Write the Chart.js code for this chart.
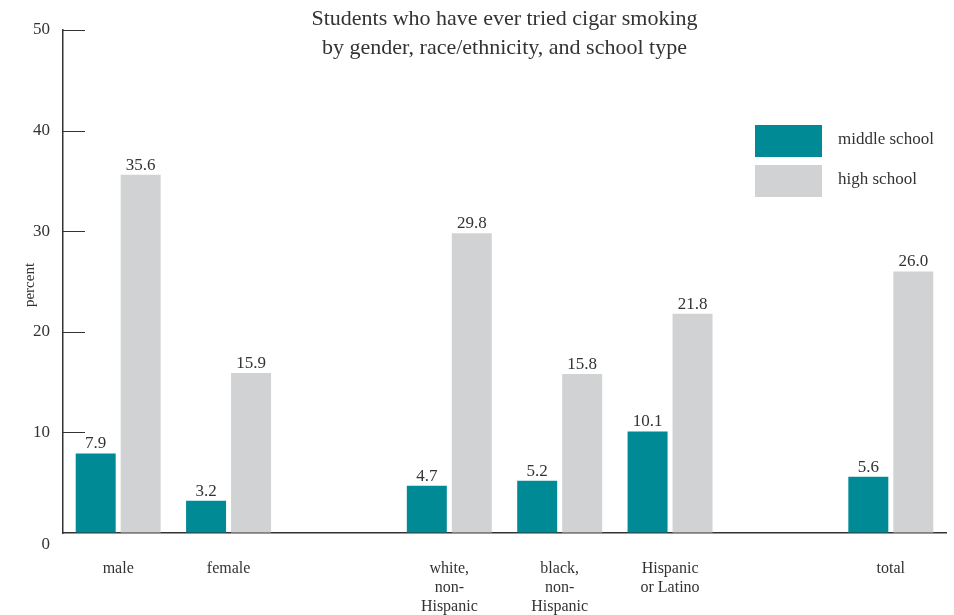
<!DOCTYPE html>
<html>
<head>
<meta charset="utf-8">
<script src="https://cdn.jsdelivr.net/npm/chart.js@4"></script>
<style>
  html, body { margin: 0; padding: 0; background: #fff; }
  #wrap { width: 954px; height: 615px; }
</style>
</head>
<body>
<div id="wrap"><canvas id="chart" width="954" height="615"></canvas></div>
<script>
// categories (empty slots are the gaps between groups)
const categories = [
  "male",
  "female",
  "",
  ["white,", "non-", "Hispanic"],
  ["black,", "non-", "Hispanic"],
  ["Hispanic", "or Latino"],
  "",
  "total"
];
const middleSchool = [7.9, 3.2, null, 4.7, 5.2, 10.1, null, 5.6];
const highSchool = [35.6, 15.9, null, 29.8, 15.8, 21.8, null, 26.0];
const yTicks = [0, 10, 20, 30, 40, 50];
const titleLines = ["Students who have ever tried cigar smoking", "by gender, race/ethnicity, and school type"];

const TEAL = "#008a96";
const GRAY = "#d1d2d4";
const TEXT = "#333333";
const SERIF = "'Liberation Serif', 'DejaVu Serif', serif";

// title, inward ticks, value labels, axis title and legend
const extras = {
  id: "extras",
  afterDraw(chart) {
    const ctx = chart.ctx;
    const area = chart.chartArea;
    const y = chart.scales.y;
    ctx.save();
    ctx.fillStyle = TEXT;

    // title
    ctx.font = "22px " + SERIF;
    ctx.textAlign = "center";
    ctx.textBaseline = "alphabetic";
    const cx = (area.left + area.right) / 2;
    ctx.fillText(titleLines[0], cx, 25);
    ctx.fillText(titleLines[1], cx, 54);

    // inward tick marks
    ctx.strokeStyle = "#333";
    ctx.lineWidth = 1;
    yTicks.forEach(v => {
      if (v === 0) return;
      const py = Math.round(y.getPixelForValue(v)) + 0.5;
      ctx.beginPath();
      ctx.moveTo(area.left, py);
      ctx.lineTo(area.left + 22, py);
      ctx.stroke();
    });

    // zero label sits below the baseline
    ctx.font = "17px " + SERIF;
    ctx.textAlign = "right";
    ctx.textBaseline = "middle";
    ctx.fillText("0", area.left - 13, y.getPixelForValue(0) + 12);

    // value labels
    ctx.font = "17px " + SERIF;
    ctx.textAlign = "center";
    ctx.textBaseline = "bottom";
    chart.data.datasets.forEach((ds, i) => {
      const meta = chart.getDatasetMeta(i);
      meta.data.forEach((bar, j) => {
        const v = ds.data[j];
        if (v == null) return;
        ctx.fillText(v.toFixed(1), bar.x, bar.y - 1);
      });
    });

    // axis title
    ctx.save();
    ctx.translate(30, 285);
    ctx.rotate(-Math.PI / 2);
    ctx.font = "15px " + SERIF;
    ctx.textAlign = "center";
    ctx.textBaseline = "middle";
    ctx.fillText("percent", 0, 0);
    ctx.restore();

    // legend
    const items = chart.data.datasets;
    ctx.font = "17px " + SERIF;
    ctx.textAlign = "left";
    ctx.textBaseline = "middle";
    items.forEach((ds, i) => {
      const top = 125 + i * 40;
      ctx.fillStyle = ds.backgroundColor;
      ctx.fillRect(755, top, 67, 32);
      ctx.fillStyle = TEXT;
      ctx.fillText(ds.label, 838, top + 15);
    });
    ctx.restore();
  }
};

new Chart(document.getElementById("chart"), {
  type: "bar",
  data: {
    labels: categories,
    datasets: [
      { label: "middle school", data: middleSchool, backgroundColor: TEAL },
      { label: "high school", data: highSchool, backgroundColor: GRAY }
    ]
  },
  options: {
    responsive: false,
    animation: false,
    categoryPercentage: 0.815,
    barPercentage: 0.889,
    layout: { padding: { top: 30, right: 8, left: 0, bottom: 0 } },
    plugins: {
      legend: { display: false },
      title: { display: false },
      tooltip: { enabled: false }
    },
    scales: {
      x: {
        grid: { display: false, drawTicks: false },
        border: { display: true, color: "#333", width: 1.5 },
        ticks: {
          color: TEXT,
          font: { family: SERIF, size: 16, lineHeight: 1.2 },
          padding: 26,
          maxRotation: 0,
          autoSkip: false
        },
        afterFit(scale) { scale.height = 82; }
      },
      y: {
        min: 0,
        max: 50,
        grid: { display: true, drawOnChartArea: false, drawTicks: false },
        border: { display: true, color: "#333", width: 1.5 },
        ticks: {
          stepSize: 10,
          color: TEXT,
          font: { family: SERIF, size: 17 },
          padding: 13,
          callback: v => (v === 0 ? "" : v)
        },
        afterFit(scale) { scale.width = 63; }
      }
    }
  },
  plugins: [extras]
});
</script>
</body>
</html>
